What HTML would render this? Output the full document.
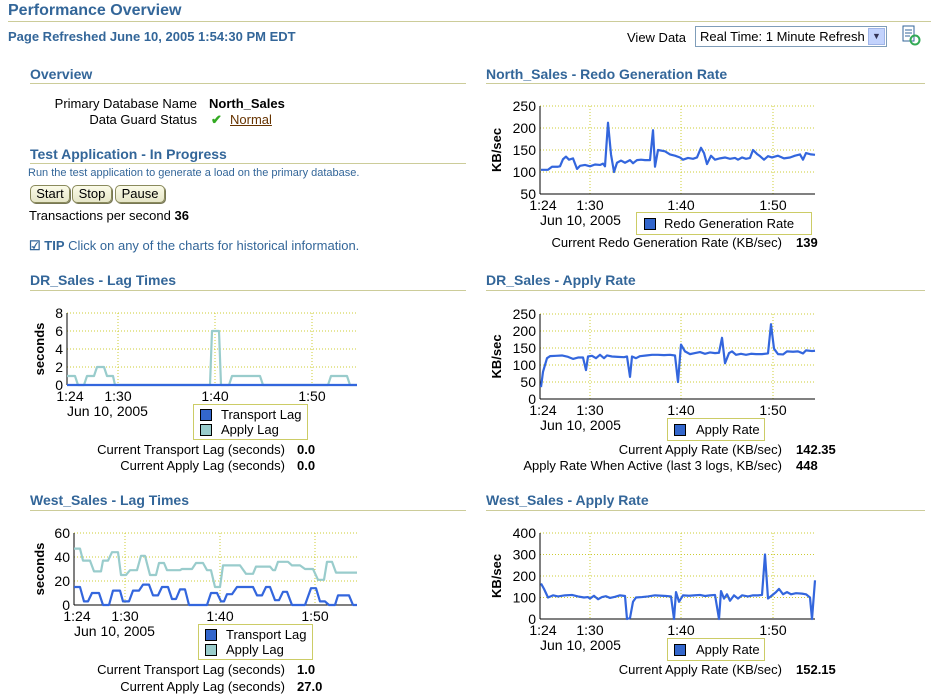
<!DOCTYPE html>
<html><head><meta charset="utf-8">
<style>
body{margin:0;width:931px;height:698px;background:#fff;font-family:"Liberation Sans",Arial,sans-serif;font-size:13px;color:#000;position:relative;overflow:hidden}
.a{position:absolute;white-space:nowrap}
.h{color:#336699;font-weight:bold;font-size:14px}
.ln{position:absolute;height:1px;background:#cccc99}
.r{text-align:right}
.b{font-weight:bold}
.btn{position:absolute;top:185px;height:16px;border:1px solid #8a8a5c;border-radius:5px;background:linear-gradient(#fbfbe8,#e6e6c8);font-size:13px;text-align:center;line-height:16px;box-shadow:1px 1px 0 #777755}
.leg{position:absolute;border:1px solid #cccc66;background:#fff}
.sw{position:absolute;width:10px;height:10px;border:1px solid #000}
</style></head><body>
<div class="a h" style="left:8px;top:2px;font-size:16px">Performance Overview</div>
<div class="ln" style="left:8px;top:21px;width:923px"></div>
<div class="a b" style="left:8px;top:29px;color:#336699;font-size:13px">Page Refreshed June 10, 2005 1:54:30 PM EDT</div>
<div class="a" style="left:627px;top:30px">View Data</div>
<div class="a" style="left:695px;top:26px;width:190px;height:19px;border:1px solid #7f9db9;"><span style="position:absolute;left:4px;top:2px">Real Time: 1 Minute Refresh</span><span style="position:absolute;right:1px;top:1px;width:15px;height:15px;background:#c3d3fd;border:1px solid #a0b5e8;font-size:9px;text-align:center;line-height:15px;color:#335">&#9660;</span></div>
<svg class="a" style="left:902px;top:25px" width="20" height="22"><rect x="1" y="1" width="11" height="15" fill="#fff" stroke="#336699"/><path d="M3 5h7M3 8h7M3 11h5" stroke="#336699"/><circle cx="13" cy="15" r="4.5" fill="none" stroke="#33aa55" stroke-width="2"/></svg>

<div class="a h" style="left:30px;top:66px">Overview</div>
<div class="ln" style="left:30px;top:83px;width:436px"></div>
<div class="a r" style="left:20px;width:177px;top:96px">Primary Database Name</div>
<div class="a b" style="left:209px;top:96px">North_Sales</div>
<div class="a r" style="left:20px;width:177px;top:112px">Data Guard Status</div>
<div class="a" style="left:211px;top:112px;color:#33aa22;font-weight:bold">&#10004;</div>
<div class="a" style="left:230px;top:112px;color:#663300;text-decoration:underline">Normal</div>
<div class="a h" style="left:30px;top:146px">Test Application - In Progress</div>
<div class="ln" style="left:30px;top:163px;width:436px"></div>
<div class="a" style="left:28px;top:167px;font-size:11px;color:#336699">Run the test application to generate a load on the primary database.</div>
<div class="btn" style="left:30px;width:38px">Start</div>
<div class="btn" style="left:72px;width:38px">Stop</div>
<div class="btn" style="left:115px;width:48px">Pause</div>
<div class="a" style="left:29px;top:208px">Transactions per second <b>36</b></div>
<div class="a" style="left:29px;top:238px;color:#336699"><span style="font-weight:bold">&#9745; TIP</span> Click on any of the charts for historical information.</div>

<div class="a h" style="left:30px;top:272px">DR_Sales - Lag Times</div>
<div class="ln" style="left:30px;top:290px;width:436px"></div>
<div class="a h" style="left:30px;top:492px">West_Sales - Lag Times</div>
<div class="ln" style="left:30px;top:510px;width:436px"></div>
<div class="a h" style="left:486px;top:66px">North_Sales - Redo Generation Rate</div>
<div class="ln" style="left:486px;top:83px;width:439px"></div>
<div class="a h" style="left:486px;top:272px">DR_Sales - Apply Rate</div>
<div class="ln" style="left:486px;top:290px;width:439px"></div>
<div class="a h" style="left:486px;top:492px">West_Sales - Apply Rate</div>
<div class="ln" style="left:486px;top:510px;width:439px"></div>

<div class="leg" style="left:636px;top:212px;width:174px;height:21px"><div class="sw" style="left:7px;top:5px;background:#3366cc"></div><span class="a" style="left:27px;top:3px;font-size:13px">Redo Generation Rate</span></div>
<div class="leg" style="left:193px;top:404px;width:113px;height:34px"><div class="sw" style="left:6px;top:4px;background:#3366cc"></div><span class="a" style="left:27px;top:2px;font-size:13px">Transport Lag</span><div class="sw" style="left:6px;top:19px;background:#99cccc"></div><span class="a" style="left:27px;top:17px;font-size:13px">Apply Lag</span></div>
<div class="leg" style="left:198px;top:624px;width:113px;height:34px"><div class="sw" style="left:6px;top:4px;background:#3366cc"></div><span class="a" style="left:27px;top:2px;font-size:13px">Transport Lag</span><div class="sw" style="left:6px;top:19px;background:#99cccc"></div><span class="a" style="left:27px;top:17px;font-size:13px">Apply Lag</span></div>
<div class="leg" style="left:667px;top:418px;width:96px;height:21px"><div class="sw" style="left:6px;top:5px;background:#3366cc"></div><span class="a" style="left:28px;top:3px;font-size:13px">Apply Rate</span></div>
<div class="leg" style="left:667px;top:638px;width:96px;height:21px"><div class="sw" style="left:6px;top:5px;background:#3366cc"></div><span class="a" style="left:28px;top:3px;font-size:13px">Apply Rate</span></div>

<div class="a r" style="left:450px;width:332px;top:235px">Current Redo Generation Rate (KB/sec)</div><div class="a b" style="left:796px;top:235px">139</div>
<div class="a r" style="left:30px;width:255px;top:442px">Current Transport Lag (seconds)</div><div class="a b" style="left:297px;top:442px">0.0</div>
<div class="a r" style="left:30px;width:255px;top:458px">Current Apply Lag (seconds)</div><div class="a b" style="left:297px;top:458px">0.0</div>
<div class="a r" style="left:30px;width:255px;top:662px">Current Transport Lag (seconds)</div><div class="a b" style="left:297px;top:662px">1.0</div>
<div class="a r" style="left:30px;width:255px;top:679px">Current Apply Lag (seconds)</div><div class="a b" style="left:297px;top:679px">27.0</div>
<div class="a r" style="left:450px;width:332px;top:442px">Current Apply Rate (KB/sec)</div><div class="a b" style="left:796px;top:442px">142.35</div>
<div class="a r" style="left:450px;width:332px;top:458px">Apply Rate When Active (last 3 logs, KB/sec)</div><div class="a b" style="left:796px;top:458px">448</div>
<div class="a r" style="left:450px;width:332px;top:662px">Current Apply Rate (KB/sec)</div><div class="a b" style="left:796px;top:662px">152.15</div>

<svg id="s" class="a" style="left:0;top:0" width="931" height="698" font-family="Liberation Sans, Arial, sans-serif" font-size="14"></svg>
<script>
var s=document.getElementById('s'),h='';
function chart(L,R,T,B,ticks,gx,ylab,lx){
  var n=ticks.length-1;
  for(var i=0;i<=n;i++){var y=B-(B-T)*i/n;
    if(i>0)h+='<line x1="'+L+'" x2="'+R+'" y1="'+y+'" y2="'+y+'" stroke="#cccc33" stroke-dasharray="1,2"/>';
    h+='<text x="'+(L-4)+'" y="'+(y+5)+'" text-anchor="end">'+ticks[i]+'</text>';}
  var labs=['1:30','1:40','1:50'];
  gx.forEach(function(x,i){h+='<line x1="'+x+'" x2="'+x+'" y1="'+T+'" y2="'+B+'" stroke="#cccc33" stroke-dasharray="1,2"/><text x="'+x+'" y="'+(B+16)+'" text-anchor="middle">'+labs[i]+'</text>';});
  h+='<text x="'+(L+3)+'" y="'+(B+16)+'" text-anchor="middle">1:24</text><text x="'+(L)+'" y="'+(B+31)+'">Jun 10, 2005</text>';
  h+='<line x1="'+L+'" x2="'+L+'" y1="'+T+'" y2="'+B+'" stroke="#000"/><line x1="'+L+'" x2="'+R+'" y1="'+B+'" y2="'+B+'" stroke="#000"/>';
  h+='<text transform="translate('+lx+','+((T+B)/2)+') rotate(-90)" text-anchor="middle" font-weight="bold" font-size="13">'+ylab+'</text>';
}
function line(pts,col,w){h+='<polyline fill="none" stroke="'+col+'" stroke-width="'+(w||2.2)+'" stroke-linejoin="round" points="'+pts.map(function(p){return p.join(',')}).join(' ')+'"/>';}
function steps(segs,f){var p=[];segs.forEach(function(sg){p.push([sg[0],f(sg[2])]);p.push([sg[1],f(sg[2])]);});return p;}
function map(arr,f){return arr.map(function(p){return [p[0],f(p[1])];});}

chart(540,815,106,194,['50','100','150','200','250'],[590,681,773],'KB/sec',501);
line(map([[541,105],[548,105],[552,112],[558,112],[560,113],[563,129],[566,135],[569,128],[573,131],[577,107],[580,114],[585,116],[590,113],[595,117],[600,116],[603,119],[605,113],[608,212],[611,140],[614,100],[617,121],[621,126],[625,121],[630,127],[633,120],[637,127],[641,128],[645,127],[650,127],[653,195],[655,112],[658,150],[665,147],[670,140],[675,137],[680,133],[683,128],[688,132],[693,130],[697,133],[701,155],[704,143],[707,118],[711,137],[715,128],[720,131],[725,133],[730,130],[735,132],[738,128],[742,133],[746,130],[750,132],[753,150],[757,141],[760,136],[764,128],[768,136],[772,133],[778,137],[784,131],[790,133],[795,137],[800,140],[803,128],[806,143],[811,140],[815,139]],function(v){return 194-(v-50)*0.44}),'#3366dd');

chart(540,815,314,399,['0','50','100','150','200','250'],[590,681,773],'KB/sec',501);
line(map([[541,35],[543,80],[547,120],[550,126],[556,127],[562,128],[568,124],[573,118],[578,122],[583,122],[586,85],[588,125],[592,127],[596,120],[600,130],[604,120],[607,128],[612,125],[618,124],[624,123],[627,125],[630,65],[632,125],[636,120],[640,126],[646,128],[652,130],[658,130],[664,129],[670,130],[675,128],[678,50],[681,160],[685,140],[690,132],[695,135],[700,138],[705,133],[710,137],[715,135],[719,136],[722,180],[725,105],[729,135],[732,140],[736,130],[741,133],[746,130],[751,133],[756,132],[762,132],[768,134],[771,220],[774,148],[778,132],[783,131],[787,140],[793,139],[798,140],[803,134],[806,143],[812,141],[815,142]],function(v){return 399-v*0.34}),'#3366dd');

chart(540,815,533,619,['0','100','200','300','400'],[590,681,773],'KB/sec',501);
line(map([[541,165],[544,140],[548,100],[553,110],[558,105],[565,110],[572,112],[578,105],[584,100],[588,102],[590,95],[594,108],[598,92],[602,102],[606,106],[610,98],[615,103],[620,110],[625,107],[627,0],[630,5],[633,80],[636,100],[642,102],[648,105],[655,110],[662,108],[666,107],[671,105],[674,0],[676,125],[679,80],[683,110],[689,108],[694,110],[700,112],[705,107],[710,110],[715,112],[719,0],[721,130],[724,95],[727,115],[730,85],[734,110],[738,95],[742,110],[748,105],[753,110],[758,110],[762,112],[765,300],[768,95],[772,110],[776,125],[779,140],[783,115],[787,125],[791,115],[796,120],[802,118],[806,115],[810,100],[812,0],[815,180]],function(v){return 619-v*0.215}),'#3366dd');

chart(67,357,313,385,['0','2','4','6','8'],[118,215,312],'seconds',44);
line([[67,376],[75,376],[78,385],[84,385],[87,376],[94,376],[97,367],[104,367],[107,376],[113,376],[115,385],[210,385],[212,331],[219,331],[221,385],[229,385],[232,376],[260,376],[263,385],[328,385],[331,376],[347,376],[350,385],[357,385]],'#99cccc');
line([[67,385],[357,385]],'#3366dd');

chart(74,357,533,605,['0','20','40','60'],[125,220,315],'seconds',44);
var fw=function(v){return 605-v*1.2};
var ap=[[74,80,47],[83,90,37],[94,101,28],[103,108,37],[112,118,44],[121,126,25],[130,137,29],[141,145,41],[150,156,25],[159,164,35],[167,180,29],[182,192,30],[196,203,35],[207,211,29],[215,220,15],[223,240,33],[246,253,26],[256,270,32],[273,275,29],[278,288,36],[292,300,33],[305,313,30],[318,324,21],[327,332,36],[336,357,27]];
line(steps(ap,fw),'#99cccc');
var tr=[[74,80,15],[84,88,3],[92,99,10],[103,109,0],[113,120,12],[123,129,3],[133,139,12],[143,149,17],[153,158,8],[162,168,15],[172,176,5],[180,185,13],[189,207,0],[211,217,10],[221,224,3],[227,232,9],[237,253,15],[257,262,8],[266,270,15],[275,279,4],[283,287,11],[292,305,0],[311,316,14],[320,325,3],[329,335,0],[338,349,8],[353,357,0]];
line(steps(tr,fw),'#3366dd');
s.innerHTML=h;
</script>
</body></html>
